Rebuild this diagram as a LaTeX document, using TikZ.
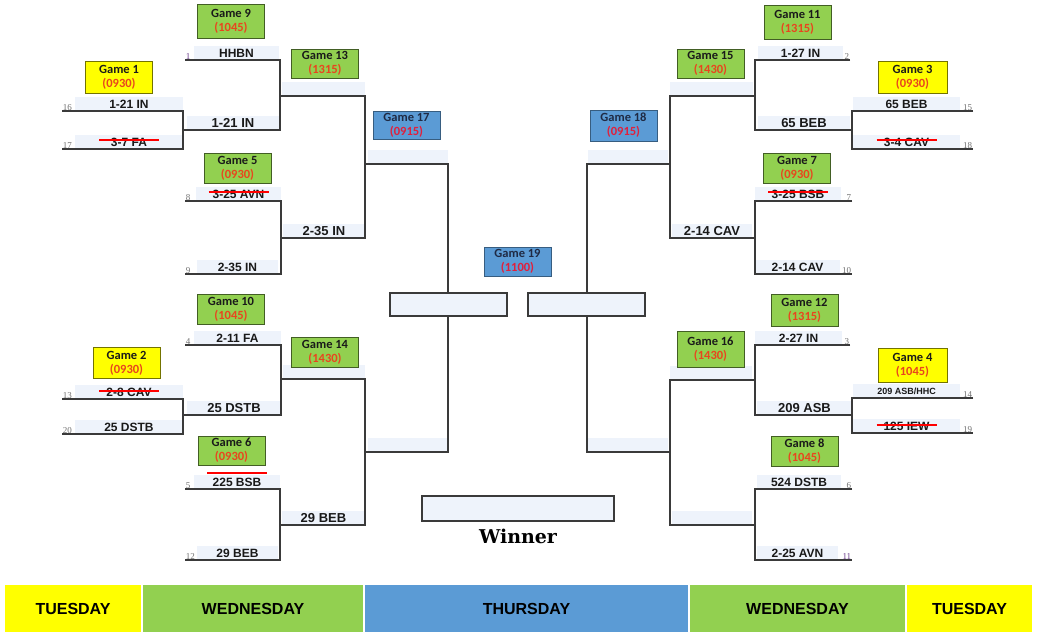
\documentclass[tikz,border=0pt]{standalone}
\usepackage{fontspec}
\setmainfont{Liberation Sans}
\newfontfamily\gamefont{Carlito}
\newfontfamily\winfont{DejaVu Serif}
\newfontfamily\numfont{Liberation Serif}
\definecolor{ylw}{HTML}{FFFF00}
\definecolor{grn}{HTML}{92D050}
\definecolor{blu}{HTML}{5B9BD5}
\definecolor{bandc}{HTML}{EEF3FB}
\definecolor{linec}{HTML}{3A3A3A}
\definecolor{timec}{HTML}{E8461E}
\definecolor{timeb}{HTML}{E0203C}
\definecolor{numc}{HTML}{707070}
\definecolor{nump}{HTML}{6A3A8A}
\definecolor{navy}{HTML}{1F2A44}
\definecolor{gtext}{HTML}{1A1A1A}
\tikzset{
  br/.style={draw=linec, line width=1.6pt, line join=miter},
  team/.style={font=\bfseries\fontsize{12}{14}\selectfont, inner xsep=2pt, inner ysep=0pt, text=black!90},
  gbox/.style={draw=#1!45!black, line width=0.9pt, fill=#1, minimum width=67pt, minimum height=31pt,
    inner sep=0pt, align=center, text=gtext, font=\gamefont\bfseries\fontsize{12.5}{14}\selectfont},
  bbox/.style={gbox=blu, draw=blu!60!black, text=navy},
  numl/.style={font=\numfont\fontsize{9}{10}\selectfont, text=numc, inner sep=0.6pt, anchor=south west},
  numr/.style={font=\numfont\fontsize{9}{10}\selectfont, text=numc, inner sep=0.6pt, anchor=south east},
  strike/.style={draw=red, line width=2.4pt},
  fbox/.style={draw=linec, line width=1.6pt, fill=bandc, inner sep=0pt},
  day/.style={inner sep=0pt, font=\bfseries\fontsize{16}{18}\selectfont, text=black},
}
\newcommand\slot[7]{%
  \fill[bandc] (#5,#4-14.5) rectangle (#6,#4-0.8);
  \coordinate (#1a) at (#2,#4);
  \coordinate (#1b) at (#3,#4);
  \node[team] (#1t) at ({(#5+#6)/2},#4-7) {#7};
}
\newcommand\winsz{\fontsize{13}{14}\selectfont}
\newcommand\gm[2]{#1\\\textcolor{timec}{(#2)}}
\newcommand\gmb[2]{#1\\\textcolor{timeb}{(#2)}}
\newcommand\strk[2]{\draw[strike] ([xshift=-30pt,yshift=#2]#1t.center) -- ([xshift=30pt,yshift=#2]#1t.center);}
\begin{document}
\begin{tikzpicture}[x=1pt,y=-1pt]
\useasboundingbox (0,0) rectangle (1041,643);
\fill[white] (0,0) rectangle (1041,643);

% ---------- left half slots ----------
\slot{s16}{62}{183}{111}{75}{183}{1-21 IN}
\slot{s17}{62}{183}{149}{75}{183}{3-7 FA}
\slot{s1}{185}{280}{60}{194}{279}{HHBN}
\slot{w1}{183}{280}{130}{187}{279}{\winsz 1-21 IN}
\slot{w9}{280}{365}{96}{282}{365}{}
\slot{s8}{185}{281}{201}{196}{281}{3-25 AVN}
\slot{s9}{185}{281}{274}{197}{278}{2-35 IN}
\slot{w5}{281}{365}{238}{283}{365}{\winsz 2-35 IN}
\slot{w13}{365}{448}{164}{368}{448}{}
\slot{s4}{185}{281}{345}{194}{281}{2-11 FA}
\slot{s13}{62}{183}{399}{75}{183}{2-8 CAV}
\slot{s20}{62}{183}{434}{75}{183}{25 DSTB}
\slot{w2}{183}{281}{415}{187}{281}{\winsz 25 DSTB}
\slot{w10}{281}{365}{379}{283}{365}{}
\slot{s5}{185}{280}{489}{194}{280}{225 BSB}
\slot{s12}{185}{280}{560}{197}{278}{29 BEB}
\slot{w6}{280}{365}{525}{282}{365}{\winsz 29 BEB}
\slot{w14}{365}{448}{452}{368}{448}{}

% ---------- right half slots ----------
\slot{s2}{850}{755}{60}{758}{843}{1-27 IN}
\slot{s15}{973}{852}{111}{853}{960}{65 BEB}
\slot{s18}{973}{852}{149}{853}{960}{3-4 CAV}
\slot{w3}{852}{755}{130}{758}{850}{\winsz 65 BEB}
\slot{w11}{755}{670}{96}{670}{753}{}
\slot{s7}{852}{755}{201}{755}{841}{3-25 BSB}
\slot{s10}{852}{755}{274}{755}{840}{2-14 CAV}
\slot{w7}{755}{670}{238}{672}{752}{\winsz 2-14 CAV}
\slot{w15}{670}{587}{164}{588}{668}{}
\slot{s3}{850}{755}{345}{755}{842}{2-27 IN}
\slot{s14}{973}{852}{398}{853}{960}{\fontsize{9}{10}\selectfont 209 ASB/HHC}
\slot{s19}{973}{852}{433}{853}{960}{125 IEW}
\slot{w4}{852}{755}{415}{757}{852}{\winsz 209 ASB}
\slot{w12}{755}{670}{380}{670}{752}{}
\slot{s6}{852}{755}{489}{757}{841}{524 DSTB}
\slot{s11}{852}{755}{560}{757}{838}{2-25 AVN}
\slot{w8}{755}{670}{525}{672}{752}{}
\slot{w16}{670}{587}{452}{588}{668}{}

% ---------- bracket lines ----------
\draw[br] (s16a) -- (s16b) -- (s17b) -- (s17a);
\draw[br] (s1a) -- (s1b) -- (w1b) -- (w1a);
\draw[br] (s8a) -- (s8b) -- (s9b) -- (s9a);
\draw[br] (w9a) -- (w9b) -- (w5b) -- (w5a);
\draw[br] (s13a) -- (s13b) -- (s20b) -- (s20a);
\draw[br] (s4a) -- (s4b) -- (w2b) -- (w2a);
\draw[br] (s5a) -- (s5b) -- (s12b) -- (s12a);
\draw[br] (w10a) -- (w10b) -- (w6b) -- (w6a);
\draw[br] (w13a) -- (w13b) -- (w14b) -- (w14a);

\draw[br] (s15a) -- (s15b) -- (s18b) -- (s18a);
\draw[br] (s2a) -- (s2b) -- (w3b) -- (w3a);
\draw[br] (s7a) -- (s7b) -- (s10b) -- (s10a);
\draw[br] (w11a) -- (w11b) -- (w7b) -- (w7a);
\draw[br] (s14a) -- (s14b) -- (s19b) -- (s19a);
\draw[br] (s3a) -- (s3b) -- (w4b) -- (w4a);
\draw[br] (s6a) -- (s6b) -- (s11b) -- (s11a);
\draw[br] (w12a) -- (w12b) -- (w8b) -- (w8a);
\draw[br] (w15a) -- (w15b) -- (w16b) -- (w16a);

% ---------- strike-throughs ----------
\strk{s17}{2pt}
\strk{s8}{2pt}
\strk{s13}{1pt}
\strk{s5}{9pt}
\strk{s18}{2pt}
\strk{s7}{2pt}
\strk{s19}{1pt}

% ---------- seed numbers ----------
\node[numl] (n16) at (s16a) {16};
\node[numl] (n17) at (s17a) {17};
\node[numl, text=nump] (n1) at (s1a) {1};
\node[numl] (n8) at (s8a) {8};
\node[numl] (n9) at (s9a) {9};
\node[numl] (n4) at (s4a) {4};
\node[numl] (n13) at (s13a) {13};
\node[numl] (n20) at (s20a) {20};
\node[numl] (n5) at (s5a) {5};
\node[numl] (n12) at (s12a) {12};
\node[numr] (n2) at (s2a) {2};
\node[numr] (n15) at (s15a) {15};
\node[numr] (n18) at (s18a) {18};
\node[numr] (n7) at (s7a) {7};
\node[numr] (n10) at (s10a) {10};
\node[numr] (n3) at (s3a) {3};
\node[numr] (n14) at (s14a) {14};
\node[numr] (n19) at (s19a) {19};
\node[numr] (n6) at (s6a) {6};
\node[numr, text=nump] (n11) at (s11a) {11};

% ---------- game boxes ----------
\node[gbox=ylw, minimum height=32pt] (g1) at (119,77) {\gm{Game 1}{0930}};
\node[gbox=ylw] (g2) at (126.5,363) {\gm{Game 2}{0930}};
\node[gbox=ylw, minimum width=69pt, minimum height=32pt] (g3) at (912.5,77) {\gm{Game 3}{0930}};
\node[gbox=ylw, minimum width=69pt, minimum height=34pt] (g4) at (912.5,365) {\gm{Game 4}{1045}};
\node[gbox=grn, minimum height=30pt] (g5) at (237.5,168) {\gm{Game 5}{0930}};
\node[gbox=grn, minimum height=29pt] (g6) at (231.5,450.5) {\gm{Game 6}{0930}};
\node[gbox=grn, minimum height=30pt] (g7) at (797,168) {\gm{Game 7}{0930}};
\node[gbox=grn, minimum height=30pt] (g8) at (804.5,451) {\gm{Game 8}{1045}};
\node[gbox=grn, minimum height=34pt] (g9) at (231,21) {\gm{Game 9}{1045}};
\node[gbox=grn, minimum height=30pt] (g10) at (231,309) {\gm{Game 10}{1045}};
\node[gbox=grn, minimum height=34pt] (g11) at (797.5,22) {\gm{Game 11}{1315}};
\node[gbox=grn, minimum height=32pt] (g12) at (804.5,310) {\gm{Game 12}{1315}};
\node[gbox=grn, minimum height=29pt] (g13) at (325,63.5) {\gm{Game 13}{1315}};
\node[gbox=grn, minimum height=30pt] (g14) at (325,352) {\gm{Game 14}{1430}};
\node[gbox=grn, minimum height=29pt] (g15) at (710.5,63.5) {\gm{Game 15}{1430}};
\node[gbox=grn, minimum height=36pt] (g16) at (710.5,349) {\gm{Game 16}{1430}};
\node[bbox, minimum height=28pt] (g17) at (406.5,125) {\gmb{Game 17}{0915}};
\node[bbox, minimum height=31pt] (g18) at (623.5,125.5) {\gmb{Game 18}{0915}};
\node[bbox, minimum height=29pt] (g19) at (517.5,261.5) {\gmb{Game 19}{1100}};

% ---------- final boxes ----------
\node[fbox, minimum width=117pt, minimum height=23pt] (fl) at (448.5,304.5) {};
\node[fbox, minimum width=117pt, minimum height=23pt] (fr) at (586.5,304.5) {};
\node[fbox, minimum width=192pt, minimum height=25pt] (win) at (518,508.5) {};
\node[font=\winfont\bfseries\fontsize{19}{21}\selectfont, text=black, inner sep=0pt] (wlab) at (518,536) {Winner};

% ---------- day bar ----------
\node[day, fill=ylw, minimum width=136pt, minimum height=47pt] (d1) at (73,608.5) {TUESDAY};
\node[day, fill=grn, minimum width=220pt, minimum height=47pt] (d2) at (253,608.5) {WEDNESDAY};
\node[day, fill=blu, minimum width=323pt, minimum height=47pt] (d3) at (526.5,608.5) {THURSDAY};
\node[day, fill=grn, minimum width=215pt, minimum height=47pt] (d4) at (797.5,608.5) {WEDNESDAY};
\node[day, fill=ylw, minimum width=125pt, minimum height=47pt] (d5) at (969.5,608.5) {TUESDAY};
\end{tikzpicture}
\end{document}
